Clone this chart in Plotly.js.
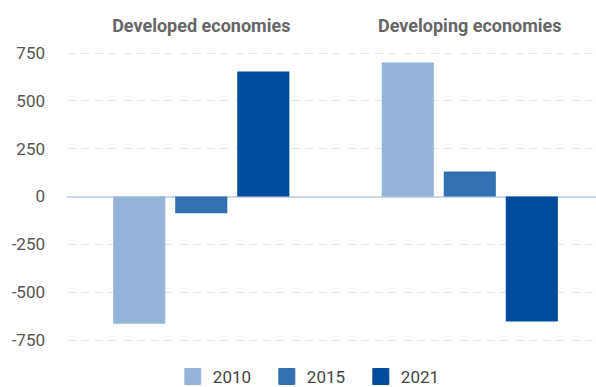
<!DOCTYPE html>
<html>
<head>
<meta charset="utf-8">
<script src="https://cdn.plot.ly/plotly-3.0.1.min.js"></script>
<style>html,body{margin:0;padding:0;background:#fff;}#chart{width:596px;height:387px;}</style>
</head>
<body>
<div id="chart"></div>
<script>
const categories = ["Developed economies", "Developing economies"];
const seriesNames = ["2010", "2015", "2021"];
const values2010 = [-665, 701];
const values2015 = [-87, 131];
const values2021 = [654, -653];
const seriesValues = [values2010, values2015, values2021];
const seriesColors = ["#96b4d8", "#3370b0", "#004b9b"];
const yTicks = [-750, -500, -250, 0, 250, 500, 750];

const traces = [];
seriesNames.forEach((name, i) => {
  traces.push({
    type: "bar", name: name, x: categories, y: seriesValues[i],
    marker: {color: seriesColors[i]}, showlegend: false, hoverinfo: "x+y+name"
  });
});
seriesNames.forEach((name, i) => {
  traces.push({
    type: "scatter", mode: "markers", name: name, x: [null], y: [null],
    marker: {symbol: "square", size: 16, color: seriesColors[i], line: {color: seriesColors[i], width: 1}},
    showlegend: true
  });
});

const layout = {
  width: 596, height: 387,
  margin: {l: 67, r: 0, t: 45, b: 42},
  paper_bgcolor: "#fff", plot_bgcolor: "#fff",
  font: {family: "Roboto, sans-serif", size: 17, color: "#555"},
  barmode: "group", bargap: 0.307, bargroupgap: 0.16,
  xaxis: {
    side: "top", range: [-0.5, 1.47], showgrid: false, showline: false, ticks: "",
    tickfont: {family: "Roboto, sans-serif", size: 18, color: "#666", weight: "bold"},
    ticklabelstandoff: 8
  },
  yaxis: {
    range: [-776, 792], tickvals: yTicks, ticktext: yTicks.map(String),
    showgrid: true, gridcolor: "#e3e3e3", gridwidth: 1, griddash: "8px,6px",
    zeroline: true, zerolinecolor: "#c8d5ea", zerolinewidth: 2,
    showline: false, ticks: "", ticklabelstandoff: 21,
    tickfont: {family: "Roboto, sans-serif", size: 17, color: "#555"}
  },
  legend: {
    orientation: "h", x: 0.290, xanchor: "left", xref: "container",
    y: 0.026, yanchor: "middle", yref: "container",
    font: {family: "Roboto, sans-serif", size: 17, color: "#444"},
    itemwidth: 30, entrywidth: 49, entrywidthmode: "pixels"
  },
  showlegend: true
};

Plotly.newPlot("chart", traces, layout, {displayModeBar: false, staticPlot: true});
</script>
</body>
</html>
